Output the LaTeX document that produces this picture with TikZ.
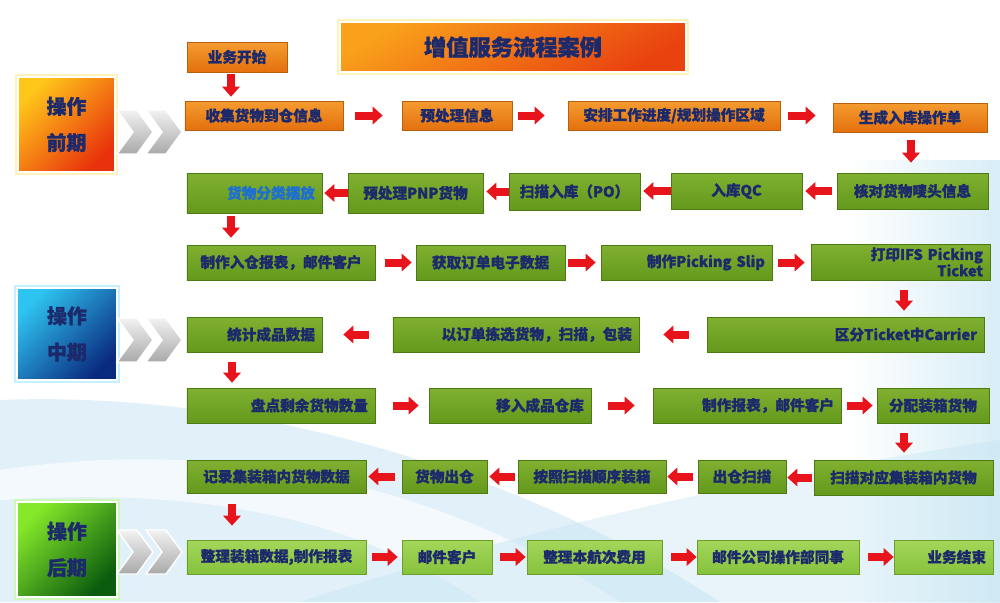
\documentclass[tikz,border=0pt]{standalone}
\usepackage{fontspec}
\setmainfont{Noto Sans CJK SC}[BoldFeatures={FakeBold=1.2}]
\usetikzlibrary{arrows.meta,shadows}

\definecolor{navy}{HTML}{1C2A6C}
\definecolor{skyblue}{HTML}{1F6FD0}
\definecolor{otop}{HTML}{F49C30}
\definecolor{obot}{HTML}{E4700E}
\definecolor{oline}{HTML}{B8600F}
\definecolor{gtop}{HTML}{80B030}
\definecolor{gbot}{HTML}{64991C}
\definecolor{gline}{HTML}{4E7A16}
\definecolor{ltop}{HTML}{A4D65A}
\definecolor{lbot}{HTML}{86C23C}
\definecolor{lline}{HTML}{6C9E2C}
\definecolor{arrred}{HTML}{E8141B}
\definecolor{bgblue}{HTML}{BFE2F2}
\definecolor{chevtop}{HTML}{F2F2F2}
\definecolor{chevbot}{HTML}{A9A9A9}
\definecolor{phy}{HTML}{FFC61A}
\definecolor{phr}{HTML}{E8320C}
\definecolor{glowo}{HTML}{FFF3B8}
\definecolor{phc}{HTML}{2EC4F0}
\definecolor{phb}{HTML}{0A2A80}
\definecolor{glowb}{HTML}{C4F0FF}
\definecolor{phl}{HTML}{86E82A}
\definecolor{phg}{HTML}{0B5C0E}
\definecolor{glowg}{HTML}{CDF8B8}
\definecolor{ttop}{HTML}{F9A11B}
\definecolor{tbot}{HTML}{E9420F}

\tikzset{
  gstep/.style={draw=gline, line width=0.6pt, top color=gtop, bottom color=gbot,
    inner xsep=6pt, inner ysep=0pt, text=navy, align=center,
    font=\bfseries\fontsize{12.5}{14}\selectfont,
    drop shadow={shadow xshift=1.2pt,shadow yshift=-1.2pt,opacity=.35}},
  ostep/.style={gstep, draw=oline, top color=otop, bottom color=obot},
  lstep/.style={gstep, draw=lline, top color=ltop, bottom color=lbot},
  rt/.style={align=right},
  phase/.style={draw=white, line width=1pt, text=navy, align=center,
    font=\bfseries\fontsize{17}{31}\selectfont},
  chev/.style={draw=white, line width=1.2pt, top color=chevtop, bottom color=chevbot},
  flow/.style={draw=arrred, line width=0.24cm, -{Triangle[length=0.3cm,width=0.52cm]}},
}

% box from pixel corners (x1,y1) to (x2,y2)
\newcommand\stepnode[7][gstep]{%
  \pgfmathsetmacro\bw{(#5-#3)*0.85358}%
  \pgfmathsetmacro\bh{(#6-#4)*0.85358}%
  \pgfmathsetmacro\tw{(#5-#3)*0.85358-12}%
  \node[#1, minimum width=\bw pt, minimum height=\bh pt, text width=\tw pt]
    (#2) at ({(#3+#5)/2},{(#4+#6)/2}) {#7};}

\begin{document}
\begin{tikzpicture}[x=0.03cm,y=-0.03cm]

      \useasboundingbox (0,0) rectangle (1000,602);
      \fill[white] (0,0) rectangle (1000,602);

      % background
      \shade[left color=white, right color=bgblue, opacity=.6] (850,160) rectangle (1000,602);
      \fill[bgblue, opacity=.45] (0,400) .. controls (250,390) and (520,470) .. (720,602) -- (0,602) -- cycle;
      \fill[white, opacity=.6] (0,470) .. controls (200,440) and (420,470) .. (620,602) -- (480,602) .. controls (330,500) and (150,490) .. (0,500) -- cycle;
      \fill[bgblue, opacity=.35] (300,602) .. controls (550,520) and (800,470) .. (1000,440) -- (1000,602) -- cycle;

      % title
      \node[draw=white, line width=1pt, preaction={draw=glowo, line width=5pt},
        top color=ttop, bottom color=tbot, shading angle=30,
        minimum width=10.38cm, minimum height=1.5cm, text=navy,
        font=\bfseries\fontsize{19}{22}\selectfont] (title) at (513,47) {增值服务流程案例};

      % phases
      \node[phase, top color=phy, bottom color=phr, shading angle=45,
        preaction={draw=glowo, line width=5pt}, minimum width=2.91cm, minimum height=2.85cm]
        (pre) at (66.5,124.5) {操作\\前期};
      \node[phase, top color=phc, bottom color=phb, shading angle=45,
        preaction={draw=glowb, line width=5pt}, minimum width=3cm, minimum height=2.76cm]
        (mid) at (67,334) {操作\\中期};
      \node[phase, top color=phl, bottom color=phg, shading angle=45,
        preaction={draw=glowg, line width=5pt}, minimum width=3cm, minimum height=2.85cm]
        (post) at (67,549.5) {操作\\后期};

      % chevrons
      \foreach \y in {132,340,552}
      \foreach \dx in {0,29}
      { \path[chev] (117+\dx,\y-22) -- ++(20,0) -- ++(16,22) -- ++(-16,22)
          -- ++(-20,0) -- ++(16,-22) -- cycle; }

      % row1
      \stepnode[ostep]{start}{187}{42}{287}{72}{业务开始}
      \stepnode[ostep]{collect}{185}{101}{343}{130}{收集货物到仓信息}
      \stepnode[ostep]{prep}{402}{101}{512}{130}{预处理信息}
      \stepnode[ostep]{plan}{568}{101}{780}{130}{安排工作进度/规划操作区域}
      \stepnode[ostep]{order}{833}{103}{987}{132}{生成入库操作单}

      % row2
      \stepnode[gstep,rt,text=skyblue]{sort}{187}{173}{322}{213}{货物分类摆放}
      \stepnode{pnp}{348}{173}{483}{213}{预处理PNP货物}
      \stepnode{scan}{509}{173}{640}{210}{扫描入库（PO）}
      \stepnode{qc}{671}{173}{802}{209}{入库QC}
      \stepnode{check}{837}{173}{988}{209}{核对货物唛头信息}

      % row3
      \stepnode{report}{187}{245}{375}{280}{制作入仓报表，邮件客户}
      \stepnode{fetch}{416}{245}{565}{280}{获取订单电子数据}
      \stepnode[gstep,rt]{slip}{601}{245}{772}{280}{制作Picking Slip}
      \stepnode[gstep,rt]{print}{811}{244}{990}{280}{打印IFS Picking\\Ticket}

      % row4
      \stepnode[gstep,rt]{stat}{187}{317}{322}{352}{统计成品数据}
      \stepnode[gstep,rt]{pick}{393}{317}{639}{352}{以订单拣选货物，扫描，包装}
      \stepnode[gstep,rt]{carrier}{707}{317}{984}{352}{区分Ticket中Carrier}

      % row5
      \stepnode[gstep,rt]{count}{187}{388}{375}{423}{盘点剩余货物数量}
      \stepnode[gstep,rt]{move}{429}{388}{591}{423}{移入成品仓库}
      \stepnode[gstep,rt]{rep}{653}{388}{841}{423}{制作报表，邮件客户}
      \stepnode{alloc}{877}{388}{989}{423}{分配装箱货物}

      % row6
      \stepnode{record}{187}{460}{366}{493}{记录集装箱内货物数据}
      \stepnode{exit}{402}{460}{487}{493}{货物出仓}
      \stepnode{pack}{518}{460}{666}{493}{按照扫描顺序装箱}
      \stepnode{outscan}{698}{460}{786}{493}{出仓扫描}
      \stepnode{scan2}{814}{460}{993}{495}{扫描对应集装箱内货物}

      % row7
      \stepnode[lstep]{tidy}{187}{540}{366}{574}{整理装箱数据,制作报表}
      \stepnode[lstep]{mail}{402}{540}{492}{574}{邮件客户}
      \stepnode[lstep]{fee}{527}{540}{662}{574}{整理本航次费用}
      \stepnode[lstep]{notify}{697}{540}{859}{574}{邮件公司操作部同事}
      \stepnode[lstep,rt]{finish}{894}{540}{993}{574}{业务结束}

      % arrows to the right
      \foreach \a/\b/\s/\t in {collect/prep/12/19, prep/plan/6/23, plan/order/8/17,
          report/fetch/10/4, fetch/slip/3/5, slip/print/6/6,
          count/move/18/10, move/rep/17/18, rep/alloc/6/4,
          tidy/mail/6/4, mail/fee/8/1, fee/notify/9/0, notify/finish/9/0}
      { \pgfmathsetmacro\sa{\s*0.03}\pgfmathsetmacro\sb{\t*0.03}
        \draw[flow, shorten <=\sa cm, shorten >=\sb cm] (\a.east) -- (\a.east -| \b.west); }

      % arrows to the left
      \foreach \a/\b/\s/\t in {check/qc/5/3, qc/scan/0/3, scan/pnp/0/3, pnp/sort/0/2,
          carrier/pick/18/24, pick/stat/24/21,
          scan2/outscan/2/1, outscan/pack/5/1, pack/exit/3/2, exit/record/7/2}
      { \pgfmathsetmacro\sa{\s*0.03}\pgfmathsetmacro\sb{\t*0.03}
        \draw[flow, shorten <=\sa cm, shorten >=\sb cm] (\a.west) -- (\a.west -| \b.east); }

      % arrows down
      \foreach \a/\b/\x/\s/\t in {start/collect/231/2/4, order/check/911/8/10,
          sort/report/231/3/7, print/carrier/904/10/6, stat/count/232/10/5,
          alloc/scan2/904/10/7, record/tidy/232/11/14}
      { \pgfmathsetmacro\sa{\s*0.03}\pgfmathsetmacro\sb{\t*0.03}
        \draw[flow, shorten <=\sa cm, shorten >=\sb cm] (\x,0 |- \a.south) -- (\x,0 |- \b.north); }

\end{tikzpicture}
\end{document}
